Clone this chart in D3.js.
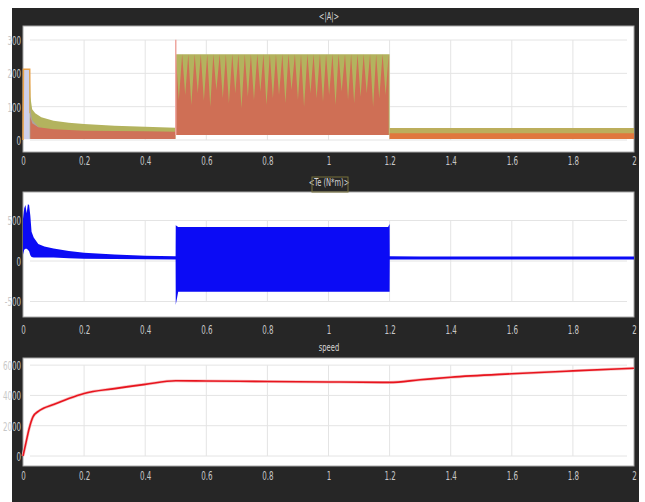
<!DOCTYPE html>
<html>
<head>
<meta charset="utf-8">
<script src="https://cdn.jsdelivr.net/npm/d3@7"></script>
<style>
  body { margin: 0; background: #ffffff; }
  svg { display: block; }
  .tick text { font-family: "Liberation Sans Narrow", "DejaVu Sans Condensed", sans-serif; font-size: 12px; fill: #c8c8c8; }
  .ttl { font-family: "Liberation Sans Narrow", "DejaVu Sans Condensed", sans-serif; font-size: 10px; fill: #d6d6d6; }
</style>
</head>
<body>
<script>
// x axis (time, s)
var xTicks = [0, 0.2, 0.4, 0.6, 0.8, 1, 1.2, 1.4, 1.6, 1.8, 2];

// panel 1: <|A|>, stacked colour envelopes
var ampTicks = [0, 100, 200, 300];
var startT = [0, 0.0015, 0.022, 0.023];
var startA = [0, 212, 212, 80];
var oliveT = [0.022, 0.024, 0.03, 0.04, 0.06, 0.1, 0.15, 0.2, 0.3, 0.4, 0.499];
var oliveA = [205, 130, 92, 80, 68, 58, 52, 48, 43, 40, 37];
var purpleT = [0.023, 0.03, 0.05, 0.08, 0.12];
var purpleA = [100, 60, 40, 30, 22];
var salmonT = [0.024, 0.03, 0.05, 0.1, 0.2, 0.3, 0.4, 0.499];
var salmonA = [70, 50, 38, 32, 28, 27, 26, 25];
var blockT = [0.5, 1.2];
var blockTop = 257;
var blockBase = 15;
var zigPeakT = [0.500, 0.521, 0.541, 0.562, 0.582, 0.603, 0.623, 0.644, 0.664, 0.685, 0.705, 0.726,
                0.746, 0.767, 0.787, 0.808, 0.828, 0.849, 0.869, 0.890, 0.910, 0.931, 0.951, 0.972,
                0.992, 1.013, 1.033, 1.054, 1.074, 1.095, 1.115, 1.136, 1.156, 1.177, 1.197];
var zigValleyT = [0.510, 0.531, 0.551, 0.572, 0.592, 0.613, 0.633, 0.654, 0.674, 0.695, 0.715, 0.736,
                  0.756, 0.777, 0.797, 0.818, 0.838, 0.859, 0.879, 0.900, 0.920, 0.941, 0.961, 0.982,
                  1.002, 1.023, 1.043, 1.064, 1.084, 1.105, 1.125, 1.146, 1.166, 1.187];
var zigValleyA = [120, 135, 105, 140, 118, 100, 150, 125, 110, 140, 95, 130, 120, 145, 105, 125, 135,
                  110, 150, 120, 100, 140, 125, 115, 135, 105, 145, 120, 110, 130, 140, 100, 125, 135];
var spikeT = [0.5, 0.5];
var spikeA = [15, 301];
var tailT = [1.2, 2];
var tailOlive = [36, 36];
var tailOrange = [20, 20];
var tailBase = 3;

// panel 2: <Te (N*m)>, upper / lower envelope of the ripple
var teTicks = [-500, 0, 500];
var teT  = [0, 0.004, 0.008, 0.012, 0.016, 0.02, 0.024, 0.028, 0.035, 0.05, 0.07, 0.1, 0.15, 0.2, 0.3, 0.4, 0.4995,
            0.5, 0.501, 0.508, 1.195, 1.2, 1.2005, 1.3, 2];
var teHi = [520, 650, 690, 590, 700, 690, 560, 360, 290, 210, 180, 155, 125, 103, 80, 66, 58,
            444, 440, 420, 420, 457, 58, 55, 55];
var teLo = [80, 140, 150, 150, 140, 120, 70, 50, 45, 45, 45, 45, 35, 29, 25, 21, 20,
            -543, -520, -380, -380, -380, 20, 18, 18];

// panel 3: speed
var spTicks = [0, 2000, 4000, 6000];
var spT = [0, 0.01, 0.02, 0.033, 0.05, 0.067, 0.1, 0.15, 0.2, 0.3, 0.4, 0.5, 0.6, 0.8, 1.0, 1.2, 1.3, 1.4, 1.6, 1.8, 2.0];
var spV = [0, 900, 1800, 2600, 2950, 3150, 3400, 3800, 4130, 4450, 4730, 4970, 4950, 4920, 4890, 4860, 5030, 5200, 5430, 5620, 5790];

var W = 645, H = 502;
var left = 23, right = 634;

var svg = d3.select("body").append("svg")
    .attr("width", W)
    .attr("height", H);

// dark scope background
svg.append("rect")
    .attr("x", 12).attr("y", 8)
    .attr("width", 627).attr("height", H - 8)
    .attr("fill", "#262626");

var x = d3.scaleLinear().domain([0, 2]).range([left, right]);

function panel(top, bottom, domain, yTicks, title, labelY, titleY) {
    var y = d3.scaleLinear().domain(domain).range([bottom, top]);

    svg.append("rect")
        .attr("x", left).attr("y", top)
        .attr("width", right - left).attr("height", bottom - top)
        .attr("fill", "#ffffff")
        .attr("stroke", "#a8a8a8")
        .attr("stroke-width", 1);

    var grid = svg.append("g").attr("stroke", "#e4e4e4").attr("stroke-width", 1);
    yTicks.forEach(function(v) {
        grid.append("line")
            .attr("x1", left + 7).attr("x2", right - 7)
            .attr("y1", y(v)).attr("y2", y(v));
    });
    xTicks.slice(1, -1).forEach(function(t) {
        grid.append("line")
            .attr("x1", x(t)).attr("x2", x(t))
            .attr("y1", y(yTicks[yTicks.length - 1])).attr("y2", y(yTicks[0]));
    });

    var ax = svg.append("g")
        .attr("transform", "translate(0," + bottom + ")")
        .call(d3.axisBottom(x).tickValues(xTicks).tickSize(0).tickFormat(function(d) { return String(d); }));
    ax.select(".domain").remove();
    ax.selectAll("text")
        .attr("y", 0).attr("dy", 0)
        .attr("transform", "translate(0," + labelY + ") scale(0.66,1)");

    var ay = svg.append("g")
        .attr("transform", "translate(" + left + ",0)")
        .call(d3.axisLeft(y).tickValues(yTicks).tickSize(0).tickFormat(function(d) { return String(d); }));
    ay.select(".domain").remove();
    ay.selectAll("text")
        .attr("x", 0).attr("dy", "0.36em")
        .attr("transform", "translate(-2,0) scale(0.66,1)");

    svg.append("text")
        .attr("class", "ttl")
        .attr("text-anchor", "middle")
        .attr("transform", "translate(329," + titleY + ") scale(0.75,1)")
        .text(title);

    return y;
}

function band(y, ts, hi, lo, color, op) {
    var pts = ts.map(function(t, i) {
        return [t, hi[i], Array.isArray(lo) ? lo[i] : lo];
    });
    svg.append("path")
        .datum(pts)
        .attr("fill", color)
        .attr("fill-opacity", op == null ? 1 : op)
        .attr("d", d3.area()
            .x(function(d) { return x(d[0]); })
            .y0(function(d) { return y(d[2]); })
            .y1(function(d) { return y(d[1]); }));
}

// ---- panel 1
var y1 = panel(26, 152, [-36, 342], ampTicks, "<|A|>", 13, 20);

band(y1, startT, startA, 2, "#c9cbe8", 0.9);
svg.append("path")
    .datum(startT.map(function(t, i) { return [t, startA[i]]; }))
    .attr("fill", "none").attr("stroke", "#e9a24a").attr("stroke-width", 1.5)
    .attr("d", d3.line().x(function(d) { return x(d[0]); }).y(function(d) { return y1(d[1]); }));
band(y1, oliveT, oliveA, 4, "#b3b35e");
band(y1, purpleT, purpleA, 4, "#a896c8", 0.6);
band(y1, salmonT, salmonA, 3, "#cf7158");

band(y1, blockT, [blockTop, blockTop], blockBase, "#b3b35e");
var zig = [];
zigPeakT.forEach(function(t, i) {
    zig.push([t, blockTop]);
    if (i < zigValleyT.length) zig.push([zigValleyT[i], zigValleyA[i]]);
});
band(y1, zig.map(function(d) { return d[0]; }), zig.map(function(d) { return d[1]; }), blockBase, "#cf6f55");

svg.append("path")
    .datum(spikeT.map(function(t, i) { return [t, spikeA[i]]; }))
    .attr("fill", "none").attr("stroke", "#eea7a0").attr("stroke-width", 1.5)
    .attr("d", d3.line().x(function(d) { return x(d[0]); }).y(function(d) { return y1(d[1]); }));

band(y1, tailT, tailOlive, tailBase, "#bcae5c");
band(y1, tailT, tailOrange, tailBase, "#e0773e");

// ---- panel 2
var y2 = panel(192, 317, [-691, 852], teTicks, "<Te (N*m)>", 17, 186);
svg.append("rect")
    .attr("x", 312).attr("y", 177)
    .attr("width", 36).attr("height", 15)
    .attr("fill", "none")
    .attr("stroke", "#77703a").attr("stroke-width", 1);
band(y2, teT, teHi, teLo, "#0b0bf5");

// ---- panel 3
var y3 = panel(358, 466, [-660, 6470], spTicks, "speed", 14, 351);
var speedLine = d3.line().curve(d3.curveMonotoneX)
    .x(function(d) { return x(d[0]); })
    .y(function(d) { return y3(d[1]); });
var speedPts = spT.map(function(t, i) { return [t, spV[i]]; });
svg.append("path")
    .datum(speedPts)
    .attr("fill", "none")
    .attr("stroke", "#f6c4c4").attr("stroke-width", 3)
    .attr("d", speedLine);
svg.append("path")
    .datum(speedPts)
    .attr("fill", "none")
    .attr("stroke", "#e8141e").attr("stroke-width", 1.6)
    .attr("d", speedLine);
</script>
</body>
</html>
